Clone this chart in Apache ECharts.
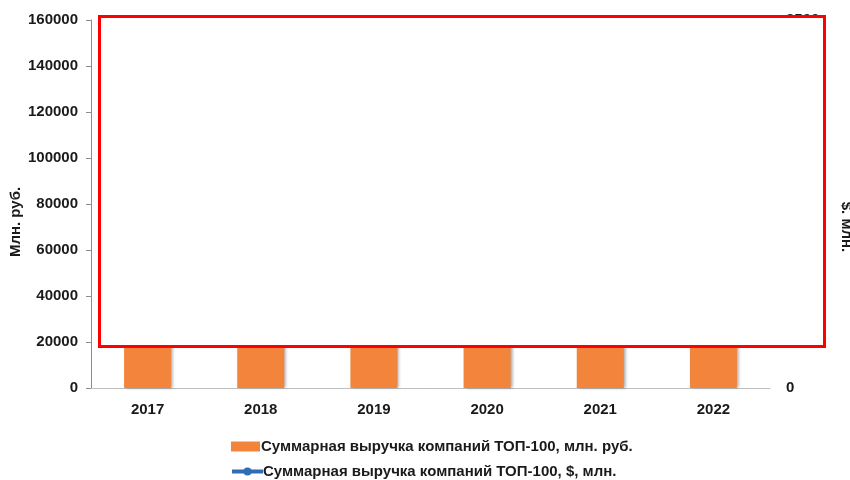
<!DOCTYPE html>
<html>
<head>
<meta charset="utf-8">
<script src="https://cdn.jsdelivr.net/npm/echarts@6/dist/echarts.min.js"></script>
<style>
  html, body { margin: 0; padding: 0; background: #fff; }
  #chart { width: 850px; height: 480px; }
</style>
</head>
<body>
<div id="chart"></div>
<script>
// годы
const years = ["2017", "2018", "2019", "2020", "2021", "2022"];
// выручка, млн. руб. (верх столбцов закрыт рамкой, значения оценочные)
const revenueRub = [96000, 108000, 121000, 126000, 142000, 151000];
// выручка, $ млн. (линия закрыта рамкой, значения оценочные)
const revenueUsd = [1650, 1670, 1870, 1750, 1930, 2190];

const rubName = "Суммарная выручка компаний ТОП-100, млн. руб.";
const usdName = "Суммарная выручка компаний ТОП-100, $, млн.";

const font = "Arial, 'Liberation Sans', sans-serif";
const chart = echarts.init(document.getElementById("chart"));

const legendText = { fontFamily: font, fontSize: 15, fontWeight: "bold", color: "#1a1a1a", padding: [0, 0, 0, -4] };

const option = {
  animation: false,
  grid: { left: 91, right: 80, top: 20, bottom: 92, outerBoundsMode: "none", containLabel: false },
  legend: [
    {
      left: 231,
      top: 439,
      padding: 0,
      itemWidth: 29,
      itemHeight: 10,
      textStyle: legendText,
      data: [{ name: rubName, icon: "rect" }]
    },
    {
      left: 230,
      top: 464,
      padding: 0,
      itemWidth: 31,
      itemHeight: 10,
      textStyle: { ...legendText, padding: [0, 0, 0, -5] },
      data: [{ name: usdName, lineStyle: { width: 4 }, itemStyle: { color: "#2e6db4" } }]
    }
  ],
  xAxis: {
    type: "category",
    data: years,
    axisLine: { lineStyle: { color: "#bfbfbf", width: 1 } },
    axisTick: { show: false },
    axisLabel: { fontFamily: font, fontSize: 15, fontWeight: "bold", color: "#1a1a1a", margin: 14 }
  },
  yAxis: [
    {
      type: "value",
      min: 0,
      max: 160000,
      interval: 20000,
      name: "Млн. руб.",
      nameLocation: "middle",
      nameGap: 68,
      nameMoveOverlap: false,
      nameTextStyle: { fontFamily: font, fontSize: 15, fontWeight: "bold", color: "#1a1a1a", padding: [0, 36, 0, 0] },
      axisLine: { show: true, lineStyle: { color: "#8c8c8c" } },
      axisTick: { show: true, length: 5, lineStyle: { color: "#8c8c8c" } },
      splitLine: { show: false },
      axisLabel: {
        fontFamily: font, fontSize: 15, fontWeight: "bold", color: "#1a1a1a", margin: 13,
        formatter: (v) => String(v)
      }
    },
    {
      type: "value",
      min: 0,
      max: 2500,
      interval: 500,
      name: "$. млн.",
      nameLocation: "middle",
      nameGap: 69,
      nameRotate: -90,
      nameTextStyle: { fontFamily: font, fontSize: 15, fontWeight: "bold", color: "#1a1a1a", padding: [0, 0, 0, 46] },
      axisLine: { show: false },
      axisTick: { show: false },
      splitLine: { show: false },
      axisLabel: {
        fontFamily: font, fontSize: 15, fontWeight: "bold", color: "#1a1a1a", margin: 16,
        formatter: (v) => String(v)
      }
    }
  ],
  series: [
    {
      name: rubName,
      type: "bar",
      yAxisIndex: 0,
      data: revenueRub,
      barWidth: 47,
      itemStyle: {
        color: "#f2843b",
        shadowColor: "rgba(0,0,0,0.35)",
        shadowBlur: 3,
        shadowOffsetX: 2
      }
    },
    {
      name: usdName,
      type: "line",
      yAxisIndex: 1,
      data: revenueUsd,
      symbol: "circle",
      symbolSize: 8,
      lineStyle: { color: "#2e6db4", width: 4 },
      itemStyle: { color: "#2e6db4" }
    }
  ],
  // красная рамка поверх графика
  graphic: [
    {
      type: "rect",
      z: 100,
      shape: { x: 99.5, y: 16.5, width: 725, height: 330 },
      style: { fill: "#fff", stroke: "#ff0000", lineWidth: 3 }
    }
  ]
};

chart.setOption(option);
</script>
</body>
</html>
